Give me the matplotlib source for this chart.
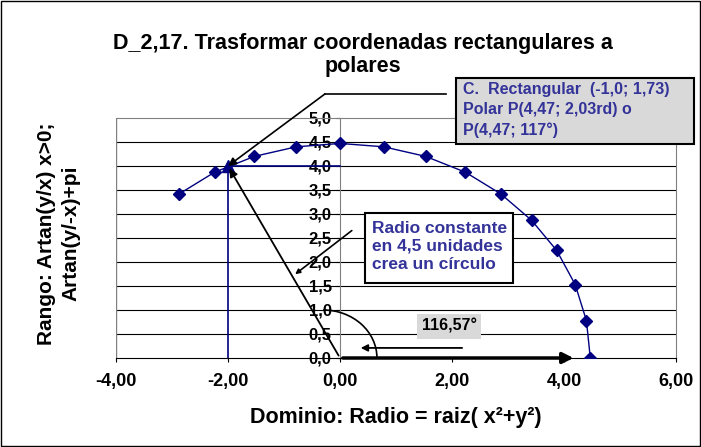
import matplotlib
matplotlib.use("Agg")
import matplotlib.pyplot as plt
from matplotlib.patches import Rectangle, Arc

plt.rcParams['font.family'] = ['Liberation Sans', 'DejaVu Sans']
plt.rcParams['font.weight'] = 'bold'

# circle r = 4,47 sampled every 10 degrees (0..130)
circle_x = [4.47, 4.40, 4.20, 3.87, 3.42, 2.87, 2.24, 1.53, 0.78, 0.00, -0.78, -1.53, -2.24, -2.87]
circle_y = [0.00, 0.78, 1.53, 2.24, 2.87, 3.42, 3.87, 4.20, 4.40, 4.47, 4.40, 4.20, 3.87, 3.42]

# the rectangular point
point_x = [-2.0]
point_y = [4.0]

x_ticks = [-4, -2, 0, 2, 4, 6]
x_labels = ['-4,00', '-2,00', '0,00', '2,00', '4,00', '6,00']
y_ticks = [0.0, 0.5, 1.0, 1.5, 2.0, 2.5, 3.0, 3.5, 4.0, 4.5, 5.0]
y_labels = ['0,0', '0,5', '1,0', '1,5', '2,0', '2,5', '3,0', '3,5', '4,0', '4,5', '5,0']

navy = '#000080'
txt_blue = '#333399'
grey = '#808080'

fig = plt.figure(figsize=(7.01, 4.47), dpi=100)
ax = fig.add_axes([116 / 701, 1 - 358 / 447, 560 / 701, 240 / 447])
fig.patches.append(Rectangle((0.002, 0.002), 0.996, 0.996, transform=fig.transFigure,
                             fill=False, edgecolor='black', lw=1))

ax.set_xlim(-4, 6)
ax.set_ylim(0, 5)

# grid
for yv in y_ticks[1:-1]:
    ax.axhline(yv, color='black', lw=0.8, zorder=1)
ax.axvline(-4, color=grey, lw=1, zorder=1)

for s in ['top', 'right']:
    ax.spines[s].set_color(grey)
ax.spines['left'].set_position(('data', 0))
ax.spines['left'].set_color(grey)
ax.spines['bottom'].set_color('black')

ax.set_xticks(x_ticks)
ax.set_xticklabels(x_labels, fontsize=13, fontweight='bold')
ax.set_yticks(y_ticks)
ax.set_yticklabels(y_labels, fontsize=12, fontweight='bold')
ax.tick_params(axis='both', length=3, width=0.8, color='black')
ax.tick_params(axis='x', pad=8)
ax.tick_params(axis='y', pad=3)

# circle
ax.plot(circle_x, circle_y, color=navy, lw=1, marker='D', markersize=6.5, zorder=4)

# point projections
ax.plot([point_x[0], point_x[0]], [0, point_y[0]], color=navy, lw=1.2, zorder=3)
ax.plot([point_x[0], 0], [point_y[0], point_y[0]], color=navy, lw=1.2, zorder=3)
ax.plot(point_x, point_y, color=navy, marker='^', markersize=9, ls='none', zorder=5)

# radius vector
ax.annotate('', xy=(point_x[0], point_y[0]), xytext=(0, 0),
            arrowprops=dict(arrowstyle='-|>', color='black', lw=1.3, mutation_scale=12), zorder=6)
# x axis arrow
ax.annotate('', xy=(4.22, 0), xytext=(0, 0), annotation_clip=False,
            arrowprops=dict(arrowstyle='-|>', color='black', lw=2.5, mutation_scale=16), zorder=6)
# angle arc
ax.add_patch(Arc((-0.3, 0), 1.92, 2.0, theta1=0, theta2=90, color='black', lw=1.2, zorder=6))
ax.annotate('', xy=(0.32, 0.21), xytext=(2.23, 0.21),
            arrowprops=dict(arrowstyle='-|>', color='black', lw=1.3, mutation_scale=10), zorder=6)
ax.text(1.95, 0.66, '116,57°', fontsize=11.5, fontweight='bold', ha='center', va='center',
        bbox=dict(boxstyle='square,pad=0.3', fc='#d9d9d9', ec='none'), zorder=7)

# callout: radio constante
ax.annotate('', xy=(-0.84, 1.71), xytext=(0.25, 2.69),
            arrowprops=dict(arrowstyle='-|>', color='black', lw=1.2, mutation_scale=7), zorder=6)
ax.add_patch(Rectangle((0.45, 1.56), 2.64, 1.46, fc='white', ec='black', lw=1.5, zorder=7))
ax.text(0.57, 2.33, 'Radio constante\nen 4,5 unidades\ncrea un círculo', fontsize=12.5,
        fontweight='bold', color=txt_blue, ha='left', va='center', linespacing=1.25, zorder=8)

# callout: top box
ax.plot([1.89, -0.27], [5.5, 5.5], color='black', lw=1.2, clip_on=False, zorder=6)
ax.annotate('', xy=(point_x[0], point_y[0]), xytext=(-0.27, 5.5), annotation_clip=False,
            arrowprops=dict(arrowstyle='-|>', color='black', lw=1.2, mutation_scale=12,
                            shrinkA=0, shrinkB=0), zorder=6)
ax.add_patch(Rectangle((2.07, 4.46), 4.25, 1.37, fc='#d9d9d9', ec='black', lw=1.5,
                       clip_on=False, zorder=7))
ax.text(2.2, 5.17, 'C.  Rectangular  (-1,0; 1,73)\nPolar P(4,47; 2,03rd) o\nP(4,47; 117°)',
        fontsize=11.5, fontweight='bold', color=txt_blue, ha='left', va='center',
        linespacing=1.4, clip_on=False, zorder=8)

fig.text(0.518, 0.877, 'D_2,17. Trasformar coordenadas rectangulares a\npolares',
         fontsize=15.5, fontweight='bold', ha='center', va='center', linespacing=1.1)
ax.set_xlabel('Dominio: Radio = raiz( x²+y²)', fontsize=15.5, fontweight='bold', labelpad=12)
fig.text(0.084, 0.478, 'Rango: Artan(y/x) x>0;\nArtan(y/-x)+pi', fontsize=15, fontweight='bold',
         rotation=90, ha='center', va='center', linespacing=1.35)

fig.savefig('out.png', dpi=100)
